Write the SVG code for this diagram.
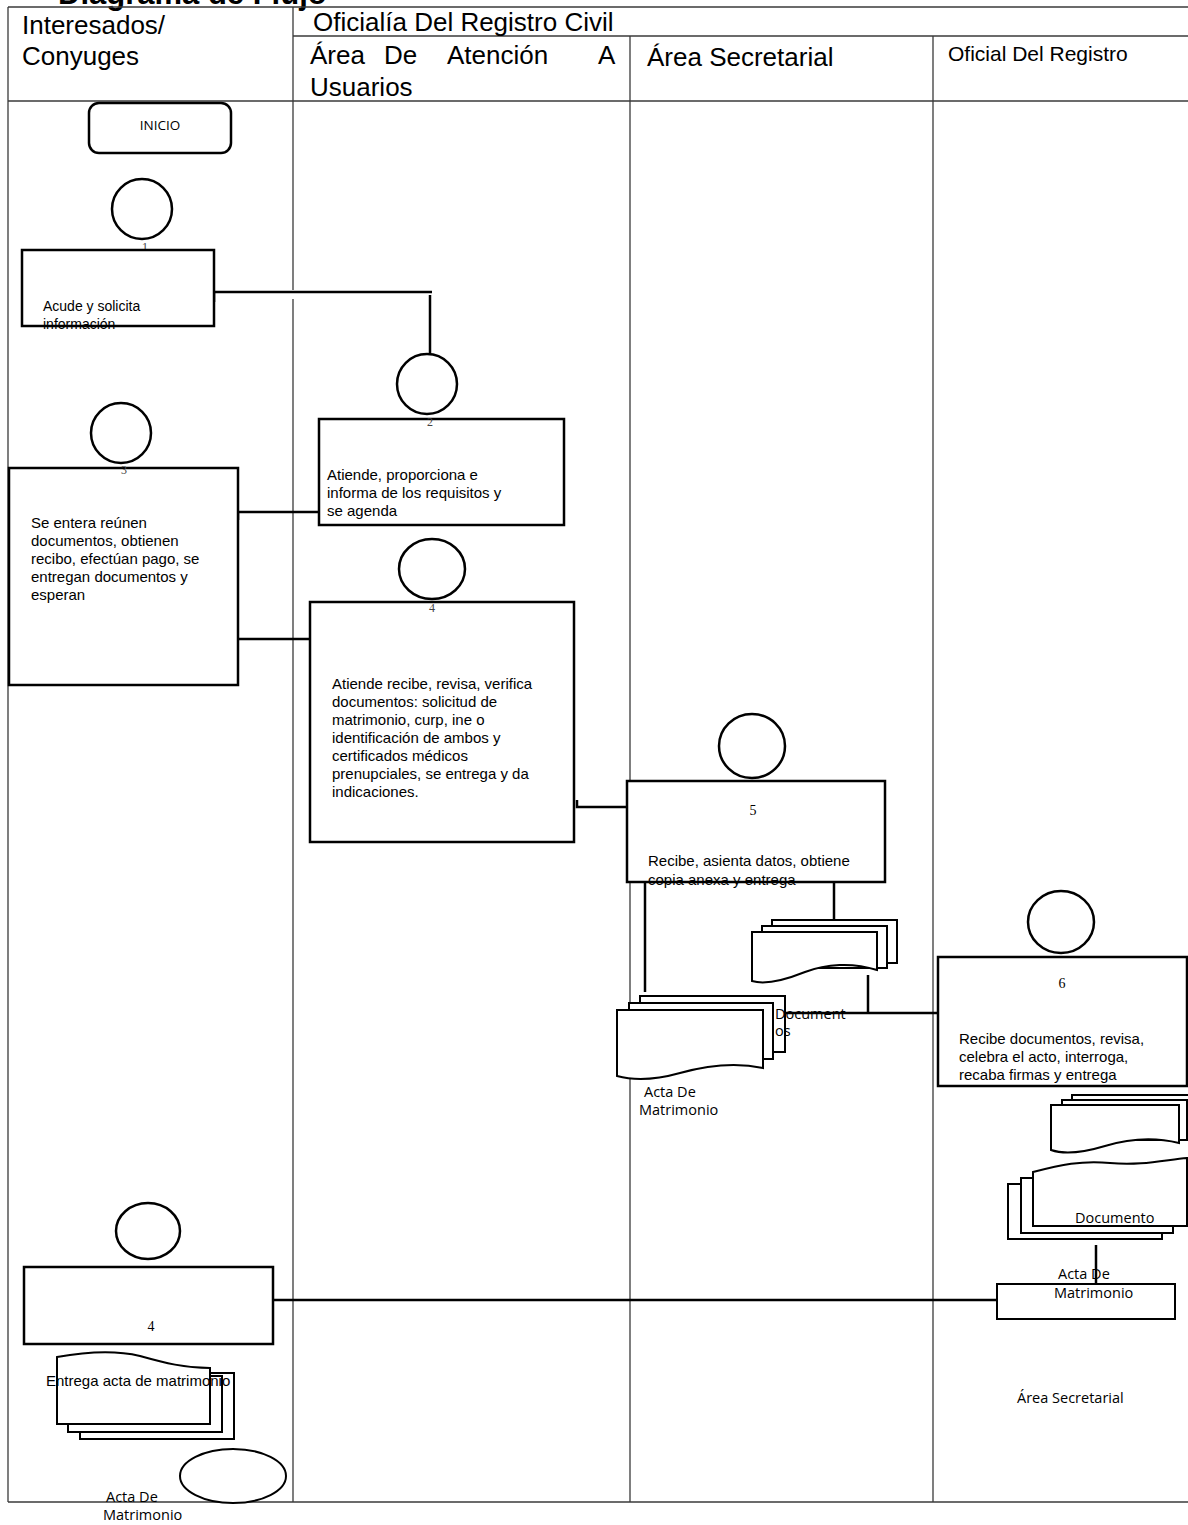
<svg xmlns="http://www.w3.org/2000/svg" width="1188" height="1525" viewBox="0 0 1188 1525">
<style>
.lane{stroke:#3a3a3a;stroke-width:1.3;fill:none}
.box{fill:#fff;stroke:#000;stroke-width:2.5}
.doc{fill:#fff;stroke:#000;stroke-width:2}
.conn{stroke:#000;stroke-width:2.5;fill:none}
.hdr{font-family:"Liberation Sans",Arial,sans-serif;font-size:26px;fill:#000}
.t{font-family:"Liberation Sans",Arial,sans-serif;font-size:15px;fill:#000}
.c{font-family:"Open Sans","Liberation Sans",sans-serif;font-size:14.5px;fill:#000}
.n{font-family:"Liberation Serif",serif;font-size:14px;fill:#000;text-anchor:middle}
.nn{font-family:"Liberation Serif",serif;font-size:12px;fill:#444;text-anchor:middle}
</style>
<rect width="1188" height="1525" fill="#fff"/>
<text x="58" y="4" font-family="Liberation Sans, Arial, sans-serif" font-weight="bold" font-size="31">Diagrama de Flujo</text>

<g id="lanes" class="lane">
<line x1="8" y1="7" x2="1188" y2="7"/>
<line x1="8" y1="7" x2="8" y2="1502"/>
<line x1="293" y1="7" x2="293" y2="290"/>
<line x1="293" y1="299" x2="293" y2="1502"/>
<line x1="293" y1="36" x2="1188" y2="36"/>
<line x1="630" y1="36" x2="630" y2="1502"/>
<line x1="933" y1="36" x2="933" y2="1502"/>
<line x1="8" y1="101" x2="1188" y2="101"/>
<line x1="8" y1="1502" x2="1188" y2="1502"/>
</g>

<g id="headers">
<text class="hdr" x="22" y="34">Interesados/</text>
<text class="hdr" x="22" y="65">Conyuges</text>
<text class="hdr" x="313" y="31">Oficialía Del Registro Civil</text>
<text class="hdr" x="310" y="64">Área</text>
<text class="hdr" x="384" y="64">De</text>
<text class="hdr" x="447" y="64">Atención</text>
<text class="hdr" x="598" y="64">A</text>
<text class="hdr" x="310" y="96">Usuarios</text>
<text class="hdr" x="647" y="66">Área Secretarial</text>
<text class="hdr" x="948" y="61" style="font-size:21px">Oficial Del Registro</text>
</g>

<g id="connectors" class="conn">
<path d="M214,302 V292 H432"/>
<path d="M430,295 V355"/>
<path d="M238,520 V512 H319"/>
<path d="M235,648 V639 H310"/>
<path d="M577,800 V807 H627"/>
<path d="M645,882 V992"/>
<path d="M834,882 V920"/>
<path d="M868,975 V1012"/>
<path d="M775,1013 H938"/>
<path d="M1096,1245 V1285"/>
<path d="M273,1300 H997"/>
</g>

<g id="inicio">
<rect class="box" x="89" y="103" width="142" height="50" rx="10"/>
<text class="c" x="160" y="130" text-anchor="middle" style="font-size:13.5px">INICIO</text>
</g>

<g id="paso1">
<circle class="box" cx="142" cy="209" r="30"/>
<text class="nn" x="145" y="251">1</text>
<rect class="box" x="22" y="250" width="192" height="76"/>
<text class="t" x="43" y="311" style="font-size:14px">Acude y solicita</text>
<text class="t" x="43" y="329" style="font-size:14px">información</text>
</g>

<g id="paso2">
<circle class="box" cx="427" cy="384" r="30"/>
<rect class="box" x="319" y="419" width="245" height="106"/>
<text class="nn" x="430" y="426">2</text>
<text class="t" x="327" y="480">Atiende, proporciona e</text>
<text class="t" x="327" y="498">informa de los requisitos y</text>
<text class="t" x="327" y="516">se agenda</text>
</g>

<g id="paso3">
<circle class="box" cx="121" cy="433" r="30"/>
<rect class="box" x="9" y="468" width="229" height="217"/>
<text class="nn" x="124" y="474">3</text>
<text class="t" x="31" y="528">Se entera reúnen</text>
<text class="t" x="31" y="546">documentos, obtienen</text>
<text class="t" x="31" y="564">recibo, efectúan pago, se</text>
<text class="t" x="31" y="582">entregan documentos y</text>
<text class="t" x="31" y="600">esperan</text>
</g>

<g id="paso4">
<ellipse class="box" cx="432" cy="569" rx="33" ry="30"/>
<rect class="box" x="310" y="602" width="264" height="240"/>
<text class="nn" x="432" y="612">4</text>
<text class="t" x="332" y="689">Atiende recibe, revisa, verifica</text>
<text class="t" x="332" y="707">documentos: solicitud de</text>
<text class="t" x="332" y="725">matrimonio, curp, ine o</text>
<text class="t" x="332" y="743">identificación de ambos y</text>
<text class="t" x="332" y="761">certificados médicos</text>
<text class="t" x="332" y="779">prenupciales, se entrega y da</text>
<text class="t" x="332" y="797">indicaciones.</text>
</g>

<g id="paso5">
<ellipse class="box" cx="752" cy="746" rx="33" ry="32"/>
<rect class="box" x="627" y="781" width="258" height="101"/>
<text class="n" x="753" y="815">5</text>
<text class="t" x="648" y="866">Recibe, asienta datos, obtiene</text>
<text class="t" x="648" y="885">copia anexa y entrega</text>
</g>

<g id="documentos5">
<rect class="doc" x="772" y="920" width="125" height="43"/>
<rect class="doc" x="762" y="926" width="125" height="42"/>
<path class="doc" d="M752,932 H877 V970 C852,962 826,964 805,972 C785,980 765,985 752,981 Z"/>
</g>

<g id="acta5">
<rect class="doc" x="640" y="996" width="145" height="56"/>
<rect class="doc" x="629" y="1003" width="144" height="56"/>
<path class="doc" d="M617,1010 H763 V1068 C735,1062 705,1066 680,1073 C655,1080 635,1081 617,1076 Z"/>
<text class="c" x="775" y="1019">Document</text>
<text class="c" x="775" y="1036">os</text>
<text class="c" x="644" y="1097">Acta De</text>
<text class="c" x="639" y="1115">Matrimonio</text>
</g>

<g id="paso6">
<ellipse class="box" cx="1061" cy="922" rx="33" ry="31"/>
<rect class="box" x="938" y="957" width="249" height="129"/>
<text class="n" x="1062" y="988">6</text>
<text class="t" x="959" y="1044">Recibe documentos, revisa,</text>
<text class="t" x="959" y="1062">celebra el acto, interroga,</text>
<text class="t" x="959" y="1080">recaba firmas y entrega</text>
</g>

<g id="documentos6">
<rect class="doc" x="1072" y="1095" width="125" height="40"/>
<rect class="doc" x="1062" y="1100" width="125" height="40"/>
<path class="doc" d="M1051,1105 H1179 V1143 C1155,1137 1128,1139 1105,1146 C1085,1152 1065,1155 1051,1150 Z"/>
</g>

<g id="documento6">
<rect class="doc" x="1008" y="1184" width="154" height="55"/>
<rect class="doc" x="1021" y="1178" width="152" height="55"/>
<path class="doc" d="M1033,1172 C1060,1165 1082,1160 1110,1163 C1140,1166 1165,1160 1187,1158 V1226 H1033 Z"/>
<text class="c" x="1075" y="1223">Documento</text>
</g>

<g id="acta6">
<rect class="doc" x="997" y="1284" width="178" height="35"/>
<text class="c" x="1058" y="1279">Acta De</text>
<text class="c" x="1054" y="1298">Matrimonio</text>
</g>

<text class="c" x="1017" y="1403">Área Secretarial</text>

<g id="paso7">
<ellipse class="box" cx="148" cy="1231" rx="32" ry="28"/>
<rect class="box" x="24" y="1267" width="249" height="77"/>
<text class="n" x="151" y="1331">4</text>
</g>

<g id="acta7">
<rect class="doc" x="80" y="1373" width="154" height="66"/>
<rect class="doc" x="68" y="1376" width="154" height="56"/>
<path class="doc" d="M57,1357 C85,1352 115,1350 140,1356 C165,1363 185,1368 210,1368 V1424 H57 Z"/>
<text class="t" x="46" y="1386">Entrega acta de matrimonio</text>
</g>

<g id="fin">
<ellipse class="doc" cx="233" cy="1476" rx="53" ry="27"/>
<text class="c" x="106" y="1502">Acta De</text>
<text class="c" x="103" y="1520">Matrimonio</text>
</g>
</svg>
